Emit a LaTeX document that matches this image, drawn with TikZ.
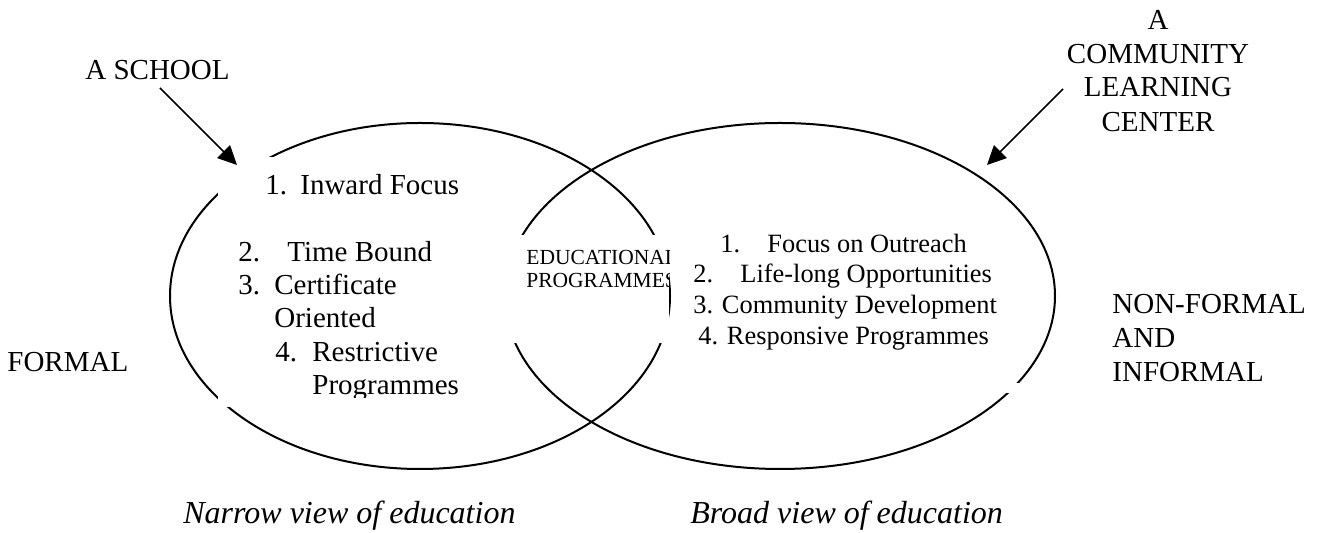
\documentclass[tikz,border=0pt]{standalone}
\usepackage{fontspec}
\setmainfont{Liberation Serif}
\usetikzlibrary{shapes.geometric,arrows.meta}
\begin{document}
\begin{tikzpicture}[x=0.5pt,y=-0.5pt,
  venn/.style={ellipse, draw, line width=1pt, inner sep=0pt},
  big/.style={inner sep=0pt, anchor=base west, font=\fontsize{14.5}{17}\selectfont},
  bigc/.style={inner sep=0pt, anchor=base, font=\fontsize{14.5}{17}\selectfont},
  rlist/.style={inner sep=0pt, anchor=base west, font=\fontsize{13.2}{15}\selectfont},
  edu/.style={inner sep=0pt, anchor=base west, font=\fontsize{10.75}{12}\selectfont},
  captiontext/.style={inner sep=0pt, anchor=base west, font=\fontsize{16}{18}\selectfont\itshape},
  pointer/.style={line width=0.75pt, -{Triangle[length=9.5pt,width=9pt]}},
  blank/.style={fill=white, draw=none}]
\useasboundingbox (0,0) rectangle (1319,533);

% the two circles of the diagram
\node[venn, minimum width=250pt, minimum height=173pt] (narrow) at (420,296) {};
\node[venn, minimum width=275pt, minimum height=173pt] (broad) at (780,296) {};

% white text boxes that interrupt the outlines
\fill[blank] (218,157) rectangle (480,407);
\fill[blank] (503,235) rectangle (669,343);
\fill[blank] (985,383) rectangle (1030,393);

% labels outside
\node[big] (school) at (85,80) {A SCHOOL};
\node[bigc] (clcA) at (1158,30) {A};
\node[bigc] (clcB) at (1158,64) {COMMUNITY};
\node[bigc] (clcC) at (1158,97) {LEARNING};
\node[bigc] (clcD) at (1158,132) {CENTER};
\node[big] (formal) at (7,372) {FORMAL};
\node[big] (nf1) at (1112,314) {NON-FORMAL};
\node[big] (nf2) at (1112,348) {AND};
\node[big] (nf3) at (1112,382) {INFORMAL};

% arrows
\coordinate (sA) at (160,88);
\coordinate (sB) at (237,165);
\coordinate (cA) at (1063,89);
\coordinate (cB) at (987,165);
\draw[pointer] (sA) -- (sB);
\draw[pointer] (cA) -- (cB);

% left list
\begin{scope}
\clip (218,157) rectangle (480,398);
\node[big] (l1n) at (265,195) {1.};
\node[big] (l1t) at (300,195) {Inward Focus};
\node[big] (l2n) at (238,262) {2.};
\node[big] (l2t) at (287,262) {Time Bound};
\node[big] (l3n) at (238,295) {3.};
\node[big] (l3t) at (274,295) {Certificate};
\node[big] (l3u) at (274,328) {Oriented};
\node[big] (l4n) at (275,362) {4.};
\node[big] (l4t) at (312,362) {Restrictive};
\node[big] (l4u) at (312,395) {Programmes};
\end{scope}

% overlap
\begin{scope}
\clip (503,235) rectangle (669,343);
\node[edu] (eduA) at (526,265) {EDUCATIONAL};
\node[edu] (eduB) at (526,288) {PROGRAMMES};
\end{scope}

% right list
\node[rlist] (r1n) at (720,253) {1.};
\node[rlist] (r1t) at (767,253) {Focus on Outreach};
\node[rlist] (r2n) at (693,283) {2.};
\node[rlist] (r2t) at (740,283) {Life-long Opportunities};
\node[rlist] (r3) at (693,314) {3. Community Development};
\node[rlist] (r4) at (698,345) {4. Responsive Programmes};

% captions
\node[captiontext] (capN) at (183,524) {Narrow view of education};
\node[captiontext] (capB) at (690,524) {Broad view of education};
\end{tikzpicture}
\end{document}
